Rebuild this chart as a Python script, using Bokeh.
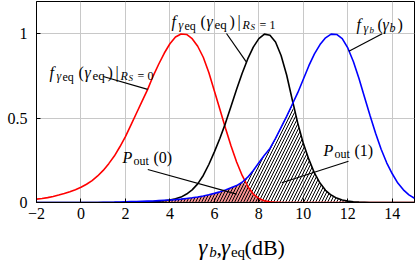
import numpy as np
from bokeh.plotting import figure
from bokeh.layouts import column
from bokeh.models import Label, Range1d, FixedTicker
from bokeh.embed import file_html
from bokeh.resources import INLINE

# ---- data (gamma in dB, normalised pdf values) ----
gamma_db = [-2.0, -1.75, -1.5, -1.25, -1.0, -0.75, -0.5, -0.25,
            0.0, 0.25, 0.5, 0.75, 1.0, 1.25, 1.5, 1.75,
            2.0, 2.25, 2.5, 2.75, 3.0, 3.25, 3.5, 3.75,
            4.0, 4.25, 4.5, 4.75, 5.0, 5.25, 5.5, 5.75,
            6.0, 6.25, 6.5, 6.75, 7.0, 7.25, 7.5, 7.75,
            8.0, 8.25, 8.5, 8.75, 9.0, 9.25, 9.5, 9.75,
            10.0, 10.25, 10.5, 10.75, 11.0, 11.25, 11.5, 11.75,
            12.0, 12.25, 12.5, 12.75, 13.0, 13.25, 13.5, 13.75,
            14.0, 14.25, 14.5, 14.75, 15.0]

pdf_eq_rs0 = [0.020, 0.024, 0.029, 0.036, 0.044, 0.053, 0.064, 0.076,
              0.090, 0.108, 0.130, 0.157, 0.190, 0.230, 0.275, 0.330,
              0.390, 0.460, 0.530, 0.600, 0.670, 0.750, 0.820, 0.885,
              0.940, 0.980, 0.998, 0.995, 0.970, 0.925, 0.860, 0.770,
              0.660, 0.550, 0.440, 0.335, 0.240, 0.160, 0.095, 0.050,
              0.024, 0.010, 0.004, 0.0015, 0.0005, 0, 0, 0,
              0, 0, 0, 0, 0, 0, 0, 0,
              0, 0, 0, 0, 0, 0, 0, 0,
              0, 0, 0, 0, 0]

pdf_eq_rs1 = [0, 0, 0, 0, 0, 0, 0, 0,
              0, 0, 0, 0, 0, 0, 0, 0,
              0.001, 0.0015, 0.002, 0.003, 0.004, 0.005, 0.007, 0.010,
              0.015, 0.022, 0.032, 0.050, 0.075, 0.110, 0.160, 0.225,
              0.300, 0.380, 0.470, 0.570, 0.670, 0.765, 0.850, 0.920,
              0.970, 0.997, 0.990, 0.950, 0.870, 0.755, 0.610, 0.470,
              0.350, 0.255, 0.175, 0.115, 0.072, 0.044, 0.026, 0.015,
              0.008, 0.004, 0.002, 0.001, 0, 0, 0, 0,
              0, 0, 0, 0, 0]

pdf_b = [0, 0, 0, 0, 0, 0, 0, 0,
         0, 0, 0, 0, 0.001, 0.0015, 0.002, 0.003,
         0.004, 0.005, 0.006, 0.007, 0.008, 0.009, 0.011, 0.013,
         0.015, 0.017, 0.020, 0.024, 0.028, 0.033, 0.039, 0.046,
         0.054, 0.063, 0.074, 0.087, 0.100, 0.120, 0.150, 0.190,
         0.235, 0.280, 0.320, 0.380, 0.445, 0.510, 0.580, 0.650,
         0.730, 0.810, 0.880, 0.935, 0.975, 0.997, 0.995, 0.970,
         0.915, 0.835, 0.735, 0.625, 0.515, 0.410, 0.315, 0.235,
         0.170, 0.115, 0.075, 0.045, 0.025]

x_ticks = [-2, 0, 2, 4, 6, 8, 10, 12, 14]
x_tick_labels = ["\u22122", "0", "2", "4", "6", "8", "10", "12", "14"]
y_ticks = [0, 0.5, 1]
y_tick_labels = ["0", "0.5", "1"]

# ---- layout (page pixels; the Bokeh page has no body margin) ----
X0, X1, Y0, Y1 = -2, 15, 0, 1.19
W = 416
FL, FR, FT, FB = 36, 414, 1, 202      # plot frame edges
H_MAIN = 226                           # main figure height
H_LAB = 264 - H_MAIN                   # strip holding the x-axis title

def dx(px):
    return X0 + (px - FL) * (X1 - X0) / (FR - FL)

def dy(py):
    return Y0 + (FB - py) * (Y1 - Y0) / (FB - FT)

p = figure(width=W, height=H_MAIN, output_backend="svg", toolbar_location=None,
           x_range=Range1d(X0, X1), y_range=Range1d(Y0, Y1),
           min_border_left=FL, min_border_right=W - FR,
           min_border_top=FT, min_border_bottom=H_MAIN - FB)
p.background_fill_color = "white"
p.border_fill_color = "white"
p.outline_line_color = "black"
p.outline_line_width = 1

FONT = "Liberation Serif"
for ax in (p.xaxis[0], p.yaxis[0]):
    ax.axis_line_color = "black"
    ax.major_tick_in = 4
    ax.major_tick_out = 0
    ax.minor_tick_line_color = None
    ax.major_label_text_font = FONT
    ax.major_label_text_font_size = "16px"
    ax.major_label_text_color = "black"
p.xaxis.ticker = FixedTicker(ticks=x_ticks)
p.xaxis.major_label_overrides = {t: l for t, l in zip(x_ticks, x_tick_labels)}
p.yaxis.ticker = FixedTicker(ticks=y_ticks)
p.yaxis.major_label_overrides = {t: l for t, l in zip(y_ticks, y_tick_labels)}
p.xaxis.major_label_standoff = 5
p.yaxis.major_label_standoff = 9

p.xgrid.ticker = FixedTicker(ticks=x_ticks)
p.ygrid.ticker = FixedTicker(ticks=y_ticks)
for g in (p.xgrid[0], p.ygrid[0]):
    g.grid_line_color = "#c8c8c8"
    g.grid_line_width = 1

x = np.array(gamma_db)
r = np.array(pdf_eq_rs0)
k = np.array(pdf_eq_rs1)
b = np.array(pdf_b)

# outage areas
p.varea(x=x, y1=0, y2=np.minimum(r, b), fill_color="#f39191", fill_alpha=1.0)
p.varea(x=x, y1=0, y2=np.minimum(k, b), fill_alpha=0.0,
        hatch_pattern="/", hatch_color="black", hatch_scale=6, hatch_weight=1)

p.line(x, r, line_color="#ff0000", line_width=1.6)
p.line(x, k, line_color="black", line_width=1.6)
p.line(x, b, line_color="#0000ff", line_width=1.6)

# pointer lines: (start in page px) -> (end in data)
pointers = [((102.7, 76), (3.0, 0.67)),
            ((226, 33), (7.45, 0.83)),
            ((381.7, 33.3), (12.05, 0.895)),
            ((147.3, 169), (7.0, 0.05)),
            ((348, 160.7), (9.03, 0.117))]
p.segment(x0=[dx(s[0]) for s, e in pointers], y0=[dy(s[1]) for s, e in pointers],
          x1=[e[0] for s, e in pointers], y1=[e[1] for s, e in pointers],
          line_color="black", line_width=1.2)

def put(px, py, text, size, italic=False, fig=p, conv=(dx, dy)):
    fx, fy = conv
    fig.add_layout(Label(x=fx(px), y=fy(py), text=text, text_font=FONT,
                         text_font_size=f"{size}px",
                         text_font_style="italic" if italic else "normal",
                         text_baseline="alphabetic", text_align="left",
                         text_color="black"))

def f_eq(px0, base, tail):
    put(px0, base, "f", 16, True)
    put(px0 + 7, base + 3, "\u03b3", 12, True)
    put(px0 + 13, base + 4, "eq", 12)
    put(px0 + 29, base, "(", 16)
    put(px0 + 35, base, "\u03b3", 16, True)
    put(px0 + 43, base + 3, "eq", 13)
    put(px0 + 58, base, ")", 16)
    put(px0 + 66, base, "|", 16)
    put(px0 + 71, base + 3, "R", 12, True)
    put(px0 + 79, base + 5, "S", 9, True)
    put(px0 + 88, base + 3, "=", 12)
    put(px0 + 98, base + 3, tail, 12)

f_eq(49, 72, "0")
f_eq(171, 21, "1")

# f_{gamma_b}(gamma_b)
put(356, 24, "f", 16, True)
put(363, 27, "\u03b3", 12, True)
put(369, 29, "b", 9, True)
put(377, 24, "(", 16)
put(382, 24, "\u03b3", 16, True)
put(389, 27, "b", 12, True)
put(397, 24, ")", 16)

# P_out labels
for px0, base, t in [(122, 157, "(0)"), (323, 150, "(1)")]:
    put(px0, base, "P", 16, True)
    put(px0 + 11, base + 3, "out", 12)
    put(px0 + 31, base, t, 16)

# ---- strip below the plot for the x-axis title ----
q = figure(width=W, height=H_LAB, output_backend="svg", toolbar_location=None,
           x_range=Range1d(0, W), y_range=Range1d(0, H_LAB),
           min_border=0, min_border_left=0, min_border_right=0,
           min_border_top=0, min_border_bottom=0)
q.axis.visible = False
q.grid.visible = False
q.outline_line_color = None
q.background_fill_color = "white"
q.border_fill_color = "white"

conv_q = (lambda px: px, lambda py: H_LAB - (py - H_MAIN))
put(178, 247, "\u03b3", 23, True, q, conv_q)
put(190, 251, "b", 15, True, q, conv_q)
put(198, 247, ",", 22, False, q, conv_q)
put(203, 247, "\u03b3", 23, True, q, conv_q)
put(214, 251, "eq", 15, False, q, conv_q)
put(229, 247, "(dB)", 22, False, q, conv_q)

layout = column(p, q, spacing=0)
open("out.html", "w").write(file_html(layout, INLINE))
